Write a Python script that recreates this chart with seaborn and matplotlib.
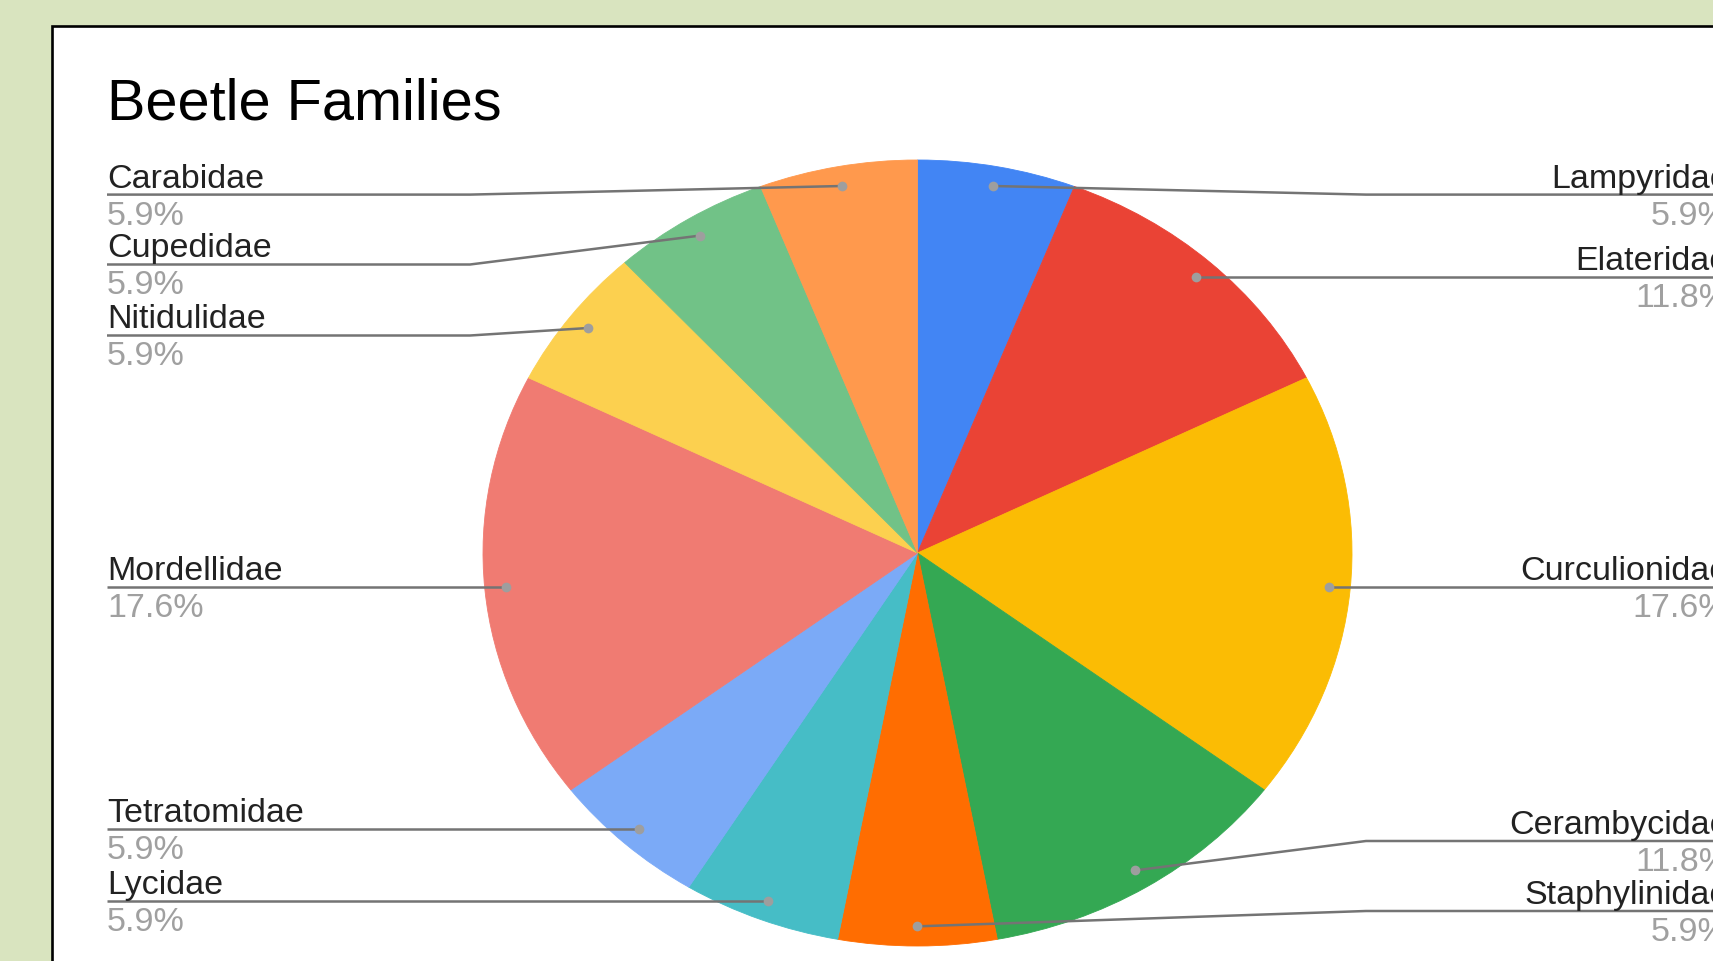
import matplotlib
matplotlib.use("Agg")
import matplotlib.pyplot as plt
import seaborn as sns
import numpy as np
from matplotlib.patches import Rectangle

# ---- data ----
families = ["Lampyridae", "Elateridae", "Curculionidae", "Cerambycidae", "Staphylinidae",
            "Lycidae", "Tetratomidae", "Mordellidae", "Nitidulidae", "Cupedidae", "Carabidae"]
counts = [1, 2, 3, 2, 1, 1, 1, 3, 1, 1, 1]
slice_colors = ["#4285f4", "#ea4335", "#fbbc04", "#34a853", "#ff6d01",
                "#46bdc6", "#7baaf7", "#f07b72", "#fcd04f", "#71c287", "#ff994d"]
title = "Beetle Families"

# ---- label layout (pixels); None = label at the dot's own height ----
label_side = ["R", "R", "R", "R", "R", "L", "L", "L", "L", "L", "L"]
label_y = [195.6, None, None, 842, 912, None, None, None, 336.5, 265.5, 195.6]

sns.set_theme(style="white")
plt.rcParams['font.family'] = ['Liberation Sans', 'DejaVu Sans']

W, H = 1713, 962
fig = plt.figure(figsize=(W / 100, H / 100), dpi=100)
fig.patch.set_facecolor("#d9e4bf")

# background card
bg = fig.add_axes([0, 0, 1, 1], zorder=0)
bg.set_xlim(0, W); bg.set_ylim(H, 0); bg.axis("off")
bg.add_patch(Rectangle((52, 26.7), 3000, 3000, facecolor="white", edgecolor="black", lw=1.9))

# pie (elliptical, as in the reference)
cx, cy, rx, ry = 917.5, 554, 434.5, 393
pax = fig.add_axes([(cx - rx) / W, (H - cy - ry) / H, 2 * rx / W, 2 * ry / H], zorder=1)
pax.patch.set_alpha(0)
wedges, _ = pax.pie(counts, colors=sns.color_palette(slice_colors), startangle=90,
                    counterclock=False, radius=1, wedgeprops=dict(linewidth=0))
for w in wedges:
    w.set_edgecolor(w.get_facecolor()); w.set_linewidth(0.6)
pax.set_aspect("auto"); pax.set_xlim(-1, 1); pax.set_ylim(-1, 1); pax.axis("off")

# annotations overlay
ax = fig.add_axes([0, 0, 1, 1], zorder=2)
ax.set_xlim(0, W); ax.set_ylim(H, 0); ax.axis("off"); ax.patch.set_alpha(0)

ax.text(107, 120, title, fontsize=41.5, color="#000000", va="baseline", ha="left")

total = sum(counts)
line_col = "#747474"
dot_col = "#9e9e9e"
name_col = "#222222"
pct_col = "#a0a0a0"
fs = 24.5
left_x, left_elbow = 107, 470
right_x, right_elbow = 1729, 1366

for w, name, c, side, ly in zip(wedges, families, counts, label_side, label_y):
    mid = np.deg2rad((w.theta1 + w.theta2) / 2)
    px, py = 0.95 * np.cos(mid), 0.95 * np.sin(mid)
    disp = pax.transData.transform((px, py))
    dx, dy = ax.transData.inverted().transform(disp)
    y = dy if ly is None else ly
    pct = f"{100 * c / total:.1f}%"
    if side == "L":
        xs = [left_x, left_elbow, dx] if ly is not None else [left_x, dx]
        ys = [y, y, dy] if ly is not None else [y, dy]
        tx, ha = left_x, "left"
    else:
        xs = [dx, right_elbow, W + 20] if ly is not None else [dx, W + 20]
        ys = [dy, y, y] if ly is not None else [dy, y]
        tx, ha = right_x, "right"
    ax.plot(xs, ys, color=line_col, lw=1.8, solid_capstyle="butt", zorder=2)
    ax.plot([dx], [dy], "o", color=dot_col, ms=7, mec="none", zorder=3)
    ax.text(tx, y - 8, name, fontsize=fs, color=name_col, ha=ha, va="baseline")
    ax.text(tx, y + 29, pct, fontsize=fs, color=pct_col, ha=ha, va="baseline")

fig.savefig("out.png", dpi=100, facecolor=fig.get_facecolor())
